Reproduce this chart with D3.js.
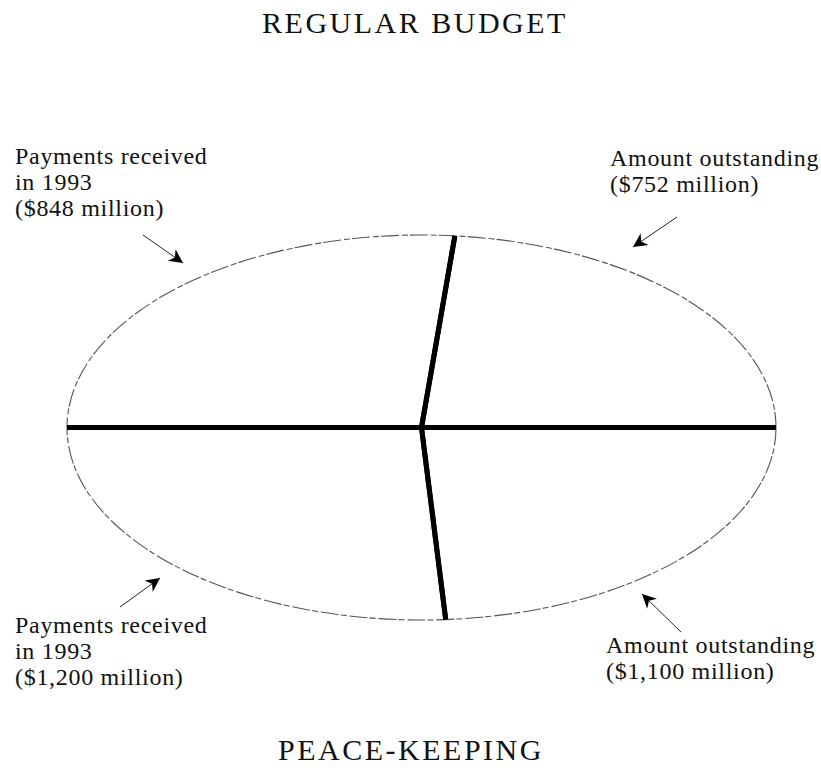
<!DOCTYPE html>
<html>
<head>
<meta charset="utf-8">
<script src="https://cdn.jsdelivr.net/npm/d3@7"></script>
<style>
  body { margin: 0; background: #fff; }
  svg text { font-family: "Liberation Serif", "Times New Roman", serif; fill: #111; }
</style>
</head>
<body>
<svg id="chart" width="821" height="776"></svg>
<script>
// data
var halves = ["REGULAR BUDGET", "PEACE-KEEPING"];
var received = [848, 1200];
var outstanding = [752, 1100];
var receivedLabels = [
  ["Payments received", "in 1993", "($848 million)"],
  ["Payments received", "in 1993", "($1,200 million)"]
];
var outstandingLabels = [
  ["Amount outstanding", "($752 million)"],
  ["Amount outstanding", "($1,100 million)"]
];

var svg = d3.select("#chart");

// unit ellipse -> page
var x = d3.scaleLinear().domain([-1, 1]).range([67, 776]),
    y = d3.scaleLinear().domain([-1, 1]).range([620, 235]);

// top half runs left -> right over the top, bottom half left -> right under the bottom
var pies = [
  d3.pie().sort(null).startAngle(-Math.PI / 2).endAngle(Math.PI / 2),
  d3.pie().sort(null).startAngle(-Math.PI / 2).endAngle(-3 * Math.PI / 2)
];

function px(a) { return x(Math.sin(a)); }
function py(a) { return y(Math.cos(a)); }

svg.append("ellipse")
  .attr("cx", x(0)).attr("cy", y(0))
  .attr("rx", x(1) - x(0)).attr("ry", y(-1) - y(0))
  .attr("fill", "none")
  .attr("stroke", "#555")
  .attr("stroke-width", 1.1)
  .attr("stroke-dasharray", "18 3 6 2");

var defs = svg.append("defs");
defs.append("marker")
  .attr("id", "head")
  .attr("viewBox", "0 0 10 10")
  .attr("refX", 10).attr("refY", 5)
  .attr("markerUnits", "userSpaceOnUse")
  .attr("markerWidth", 19).attr("markerHeight", 14)
  .attr("orient", "auto")
  .append("path")
  .attr("d", "M0,0 L10,5 L0,10 L3,5 Z")
  .attr("fill", "#000");

halves.forEach(function(name, i) {
  var arcs = pies[i]([received[i], outstanding[i]]);
  arcs.forEach(function(d) {
    [d.startAngle, d.endAngle].forEach(function(a) {
      svg.append("line")
        .attr("x1", x(0)).attr("y1", y(0))
        .attr("x2", px(a)).attr("y2", py(a))
        .attr("stroke", "#000")
        .attr("stroke-width", 5);
    });
  });
});

// titles
svg.append("text").attr("x", 415).attr("y", 33)
  .attr("text-anchor", "middle")
  .attr("font-size", 30).attr("letter-spacing", 2.5)
  .text(halves[0]);
svg.append("text").attr("x", 411).attr("y", 760)
  .attr("text-anchor", "middle")
  .attr("font-size", 30).attr("letter-spacing", 2.5)
  .text(halves[1]);

// labels
var labelPos = [
  { rec: [15, 164], out: [610, 166] },
  { rec: [15, 633], out: [606, 653] }
];
function block(lines, p) {
  var t = svg.append("text")
    .attr("font-size", 24).attr("letter-spacing", 0.7);
  lines.forEach(function(s, k) {
    t.append("tspan").attr("x", p[0]).attr("y", p[1] + k * 26).text(s);
  });
}
halves.forEach(function(name, i) {
  block(receivedLabels[i], labelPos[i].rec);
  block(outstandingLabels[i], labelPos[i].out);
});

// pointer arrows
var arrows = [
  [143, 235, 183, 263],
  [677, 217, 633, 247],
  [120, 607, 160, 578],
  [681, 632, 642, 594]
];
svg.selectAll("line.arrow").data(arrows).enter().append("line")
  .attr("class", "arrow")
  .attr("x1", function(d) { return d[0]; })
  .attr("y1", function(d) { return d[1]; })
  .attr("x2", function(d) { return d[2]; })
  .attr("y2", function(d) { return d[3]; })
  .attr("stroke", "#222")
  .attr("stroke-width", 1)
  .attr("marker-end", "url(#head)");
</script>
</body>
</html>
